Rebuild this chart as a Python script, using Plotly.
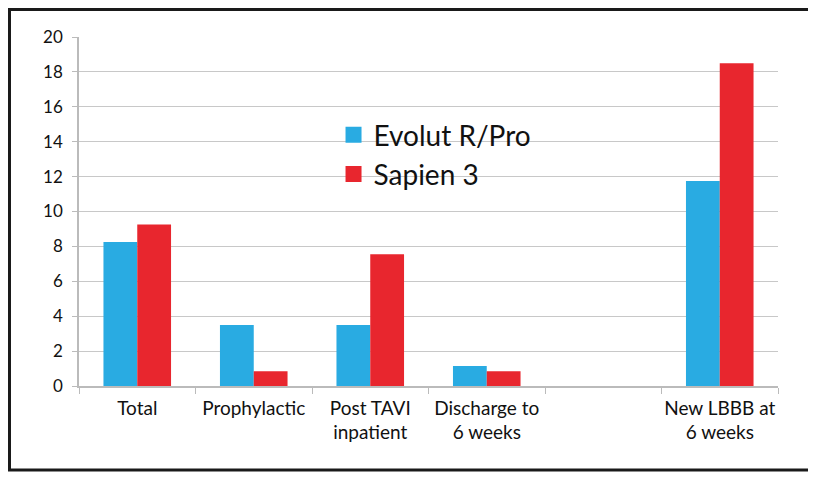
import plotly.graph_objects as go

categories = ["Total", "Prophylactic", "Post TAVI<br>inpatient", "Discharge to<br>6 weeks", " ", "New LBBB at<br>6 weeks"]
evolut = [8.25, 3.5, 3.5, 1.15, None, 11.75]
sapien = [9.25, 0.85, 7.55, 0.85, None, 18.5]
series_names = ["Evolut R/Pro", "Sapien 3"]
colors = ["#29ABE2", "#E8262E"]
y_ticks = [0, 2, 4, 6, 8, 10, 12, 14, 16, 18, 20]

# page has 8px body margin: screen = paper + 8
OFF = 8
W, H = 816 - OFF, 480 - OFF
L, R, T, B = 79 - OFF, 816 - 778, 37 - OFF, 480 - 386
pw, ph = W - L - R, H - T - B

fig = go.Figure()
for name, vals, col in zip(series_names, [evolut, sapien], colors):
    fig.add_trace(go.Bar(x=categories, y=vals, name=name, showlegend=False,
                         marker=dict(color=col, line=dict(width=0))))
for name, col in zip(series_names, colors):
    fig.add_trace(go.Scatter(x=[None], y=[None], mode="markers", name=name,
                             marker=dict(symbol="square", size=17, color=col)))

font_family = "Lato, 'Open Sans', sans-serif"
fig.update_layout(
    width=W, height=H,
    margin=dict(l=L, r=R, t=T, b=B, autoexpand=False),
    paper_bgcolor="white", plot_bgcolor="white",
    barmode="group", bargap=0.42, bargroupgap=0,
    font=dict(family=font_family, color="#111", size=17),
    legend=dict(x=(346 - 79 + 5) / pw - 0.025, y=(386 - 110) / ph, xanchor="left", yanchor="top",
                font=dict(size=28, color="#111"), bgcolor="rgba(0,0,0,0)", tracegroupgap=0,
                itemwidth=30),
    xaxis=dict(type="category", tickson="boundaries", ticks="outside", ticklen=6, tickcolor="#bbb",
               showline=True, linecolor="#bbb", linewidth=1.5, tickfont=dict(size=19, color="#111"),
               showgrid=False, ticklabelstandoff=4, tickangle=0),
    yaxis=dict(range=[0, 20], tickvals=y_ticks, ticks="outside", ticklen=5, tickcolor="#bbb",
               showline=True, linecolor="#bbb", linewidth=1.5, gridcolor="#c8c8c8", gridwidth=1,
               tickfont=dict(size=17, color="#111"), zeroline=False, ticklabelstandoff=6),
)

fig.add_shape(type="rect", xref="paper", yref="paper",
              x0=(1.5 - L) / pw, x1=(W - 6 - L) / pw,
              y0=(H - T - B - (470 - OFF - T)) / ph, y1=(H - 1.5 - B) / ph,
              line=dict(color="#1a1a1a", width=3), fillcolor="rgba(0,0,0,0)")

fig.write_html("out.html")
